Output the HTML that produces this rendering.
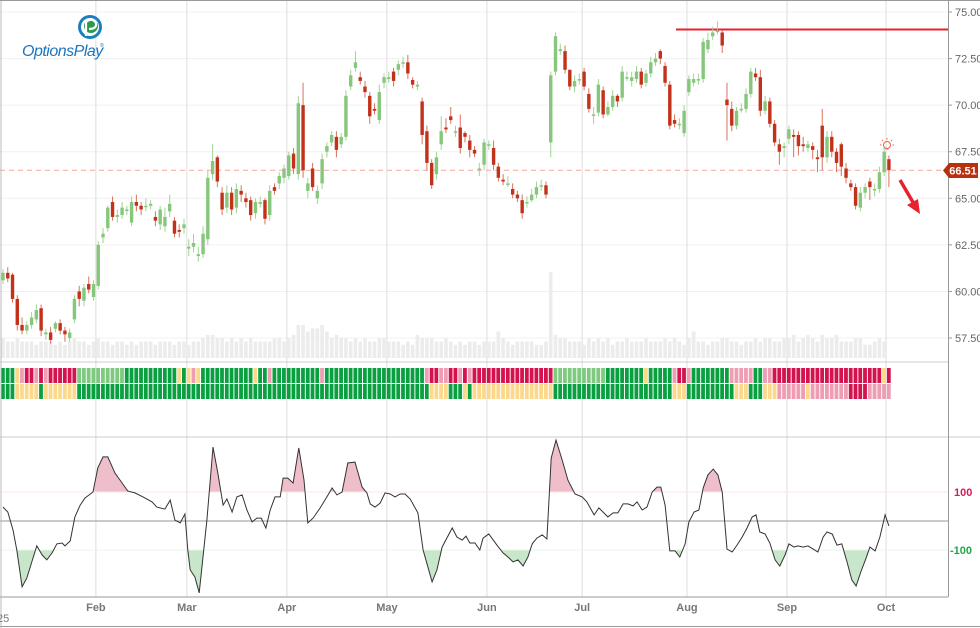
<!DOCTYPE html>
<html><head><meta charset="utf-8"><title>Price chart</title>
<style>
html,body{margin:0;padding:0;background:#fff;}
svg{display:block;font-family:"Liberation Sans",sans-serif;}
</style></head>
<body>
<svg id="chart" width="980" height="628" viewBox="0 0 980 628">
  <rect x="0" y="0" width="980" height="628" fill="#fff"/>
  <g id="grid"></g>
  <g id="volume"></g>
  <line x1="0" y1="170.2" x2="948" y2="170.2" stroke="#f2a79a" stroke-width="1" stroke-dasharray="5,4"/>
  <line x1="676" y1="29.5" x2="948" y2="29.5" stroke="#e8212f" stroke-width="2"/>
  <g id="candles"></g>
  <g id="strips"></g>
  <g id="cci"></g>
  <g id="axes"></g>
  <!-- logo -->
  <g>
    <circle cx="90" cy="27" r="12" fill="#1a7fc1"/>
    <circle cx="90" cy="27" r="9" fill="#fff"/>
    <circle cx="91" cy="26" r="7" fill="#2a9b4a"/>
    <path d="M86 36 L86 22 Q92 17 96 23 Q97 29 89 29" stroke="#fff" stroke-width="2.2" fill="none"/>
    <text x="22" y="56" font-size="16" font-style="italic" fill="#1b74be" letter-spacing="-0.5">OptionsPlay</text>
    <text x="100" y="47" font-size="5" fill="#1b74be">®</text>
  </g>
  <!-- bulb icon -->
  <g stroke="#f0604a" fill="none" stroke-width="1">
    <circle cx="887" cy="145" r="3.5"/>
    <line x1="885.5" y1="149" x2="888.5" y2="149"/>
    <line x1="887" y1="138" x2="887" y2="139.5"/>
    <line x1="880" y1="145" x2="881.5" y2="145"/>
    <line x1="892.5" y1="145" x2="894" y2="145"/>
    <line x1="882" y1="140" x2="883" y2="141"/>
    <line x1="892" y1="140" x2="891" y2="141"/>
  </g>
  <!-- arrow -->
  <g>
    <line x1="900" y1="180" x2="914" y2="204" stroke="#e8212f" stroke-width="3.5"/>
    <polygon points="920,214 907,205 918,199" fill="#e8212f"/>
  </g>
  <!-- price tag -->
  <g>
    <polygon points="943,170.5 949,163 978,163 978,178 949,178" fill="#b8310f"/>
    <text x="963" y="174.5" font-size="11" font-weight="bold" fill="#fff" text-anchor="middle">66.51</text>
  </g>
</svg>
<script>
const opens=[60.6,61.0,60.9,59.6,58.2,57.9,58.2,58.5,59.1,57.7,57.8,58.0,58.3,57.9,57.5,58.5,60.0,59.5,60.4,59.7,60.3,62.9,63.4,64.8,64.0,64.1,64.4,63.7,64.8,64.6,64.6,64.6,64.0,63.6,63.5,64.3,63.8,63.3,63.4,62.3,62.4,61.9,62.0,62.8,66.3,67.2,65.3,64.5,65.3,64.5,65.4,65.0,64.9,64.2,64.7,64.9,64.1,65.6,65.8,66.1,66.2,67.4,66.3,70.0,65.4,66.6,65.0,65.8,67.5,68.0,68.3,67.9,68.3,71.0,72.0,71.5,71.0,70.5,69.8,69.2,71.2,71.4,71.8,71.9,72.3,72.3,71.35,71.0,70.2,68.6,66.9,66.3,67.9,68.8,69.4,68.6,68.8,68.5,68.1,67.6,66.6,66.8,67.9,67.7,66.7,66.0,65.8,65.5,65.2,64.9,64.8,64.9,65.2,65.7,65.7,68.0,71.8,72.9,72.9,71.9,71.0,71.4,71.8,70.6,69.5,69.6,70.8,69.5,69.9,70.5,70.4,71.5,71.3,71.4,71.8,71.2,71.7,72.3,72.9,72.1,71.1,69.2,69.0,68.5,70.7,71.2,71.4,71.4,73.0,73.7,74.0,73.9,70.3,69.8,68.9,69.8,69.8,70.6,71.7,71.5,69.7,70.2,69.0,67.9,67.7,68.2,68.4,68.4,67.9,67.7,67.8,67.2,68.9,67.2,68.3,67.5,67.9,66.6,65.8,65.6,64.5,65.3,65.9,65.5,65.5,66.4,67.1];
const closes=[61.0,60.7,59.6,58.2,57.9,58.2,58.6,59.0,57.9,57.8,57.4,58.3,57.9,57.7,57.8,59.6,59.6,60.2,60.1,60.4,62.5,63.1,64.5,64.0,64.1,64.5,64.4,64.8,64.6,64.4,64.6,64.7,63.8,64.4,64.0,64.7,63.1,63.2,63.6,62.4,62.6,62.0,63.1,66.1,67.0,65.9,64.4,65.3,64.4,65.5,65.2,64.8,64.1,64.8,64.8,63.9,65.4,65.4,66.2,66.6,67.3,66.6,70.1,66.5,65.8,65.6,65.4,67.1,67.8,68.4,67.6,68.3,70.5,71.6,72.3,71.3,70.7,69.4,69.7,70.7,71.5,71.5,71.3,72.2,72.3,71.7,71.1,71.1,68.4,66.9,65.7,67.2,68.6,68.7,69.2,68.6,67.7,68.3,67.6,67.4,66.6,68.0,67.9,66.8,66.1,65.9,65.8,65.2,65.0,64.2,64.8,65.2,65.6,65.7,65.2,71.6,73.7,73.0,71.9,71.0,71.3,71.4,71.0,69.8,69.5,71.1,69.5,69.9,70.5,70.2,71.8,71.5,71.5,71.8,71.1,71.7,72.3,72.5,72.5,71.2,68.9,69.0,69.0,69.7,71.4,71.4,71.4,73.4,73.5,73.9,74.0,73.2,70.0,68.9,69.7,69.8,70.6,71.8,71.5,69.7,70.2,69.0,68.0,67.5,67.8,68.7,68.3,67.8,67.8,67.9,67.6,67.1,67.2,68.3,67.5,66.9,66.7,66.1,65.6,64.6,65.3,65.6,65.6,65.5,66.4,67.5,66.51];
const highs=[61.2,61.3,61.0,59.8,58.6,58.4,58.9,59.3,59.3,58.0,58.1,58.4,58.5,58.1,58.0,59.8,60.3,60.4,60.8,60.6,62.7,63.4,64.6,65.1,64.4,64.8,64.6,65.1,65.2,64.8,65.0,64.9,64.3,64.6,64.5,65.2,64.0,63.6,63.9,62.8,63.1,62.4,63.5,66.5,67.9,67.3,65.6,65.7,65.6,65.8,65.7,65.3,65.1,65.0,65.1,65.0,65.7,65.8,66.4,66.8,67.5,67.7,70.5,71.2,66.1,66.9,65.7,67.4,68.0,68.6,68.6,68.5,70.8,71.9,72.9,71.8,71.3,70.7,70.1,71.1,71.7,71.8,72.0,72.4,72.6,72.7,71.5,71.3,70.4,68.9,67.1,67.5,69.4,69.3,69.9,68.9,69.5,68.6,68.4,67.8,66.9,68.2,68.1,68.1,66.9,66.3,66.2,65.8,65.4,65.2,65.1,65.5,65.9,66.0,65.9,71.8,73.9,73.3,73.2,71.5,71.6,71.7,72.0,70.9,69.9,71.4,71.0,70.2,70.8,70.6,72.1,71.8,71.8,72.1,72.0,71.9,72.6,72.8,73.0,72.3,71.3,69.5,69.3,70.0,71.6,71.7,71.7,73.6,73.9,74.2,74.5,74.0,71.2,70.2,69.9,70.1,70.9,72.0,72.0,71.9,70.5,70.4,69.2,68.2,68.0,68.9,68.7,68.6,68.3,68.1,68.0,67.6,69.8,68.6,68.6,67.7,68.0,66.9,66.0,65.8,65.6,65.8,66.1,65.8,66.7,67.7,67.3];
const lows=[60.4,60.5,59.4,57.9,57.7,57.7,58.0,58.3,57.6,57.4,57.2,57.8,57.7,57.3,57.3,58.3,59.2,59.2,59.9,59.5,60.1,62.6,63.2,63.8,63.7,63.9,64.1,63.5,64.3,64.1,64.3,64.4,63.5,63.3,63.2,64.0,62.9,62.9,63.1,61.9,62.1,61.6,61.8,62.5,66.0,65.6,64.1,64.2,64.1,64.2,64.8,64.5,63.8,63.9,64.5,63.6,63.8,65.2,65.5,65.8,66.0,66.3,66.0,66.1,65.0,65.4,64.7,65.5,67.2,67.8,67.2,67.7,68.1,70.8,71.8,71.1,70.4,69.0,69.5,69.0,70.9,71.2,71.0,71.6,72.0,71.4,70.9,70.8,67.9,66.5,65.5,66.0,67.6,68.5,69.0,68.3,67.4,68.0,67.2,67.2,66.2,66.5,67.6,66.5,65.9,65.7,65.6,65.0,64.8,63.9,64.5,64.8,65.0,65.4,65.0,67.2,71.6,72.7,71.7,70.8,70.7,71.1,70.8,69.6,69.0,69.4,69.3,69.4,69.7,69.9,70.2,71.3,71.0,71.2,70.9,71.0,71.5,72.1,72.2,71.0,68.7,68.8,68.7,68.3,70.5,71.0,71.1,71.2,72.8,73.5,73.8,72.8,68.1,68.6,68.7,69.6,69.6,70.4,71.3,69.4,69.5,68.8,67.8,66.8,67.2,67.9,67.2,67.3,67.5,67.5,67.1,66.4,66.5,66.9,67.2,66.4,66.2,65.8,65.4,64.4,64.3,65.0,64.9,65.1,65.3,66.2,65.6];
const volumes=[6,5,5,6,5,5,5,4,5,5,5,4,5,4,5,6,5,5,4,5,6,5,5,4,5,5,4,5,4,5,5,5,4,5,5,5,4,5,5,4,5,5,6,7,7,6,6,5,6,5,6,5,6,5,5,5,5,6,6,5,6,7,10,10,8,9,9,10,8,6,7,6,6,5,6,5,6,5,5,6,6,5,5,5,4,5,4,7,6,6,6,5,5,6,5,4,5,4,5,5,4,5,5,5,8,6,5,4,5,5,5,5,4,4,5,26,7,6,6,5,5,5,4,6,5,6,5,6,4,5,5,6,5,5,5,6,5,5,5,6,5,6,5,4,6,8,5,5,4,5,5,6,6,5,5,4,5,5,6,5,6,6,5,5,6,6,7,5,6,7,6,5,7,6,6,7,5,5,5,6,6,4,4,5,6,5];
const stripRow1=[['G',3],['Y',1],['P',1],['R',2],['P',1],['R',1],['P',1],['R',6],['L',10],['G',11],['Y',1],['G',1],['Y',1],['P',1],['Y',1],['G',11],['Y',1],['G',2],['P',1],['G',10],['P',1],['G',21],['P',1],['R',2],['P',2],['R',2],['P',1],['R',1],['P',1],['R',17],['L',11],['G',8],['Y',1],['G',5],['P',1],['R',2],['P',1],['G',8],['P',5],['G',2],['P',2],['R',23],['Y',1],['R',1]];
const stripRow2=[['G',3],['Y',5],['G',1],['Y',7],['G',74],['Y',4],['G',3],['Y',1],['G',1],['Y',17],['G',25],['Y',3],['G',10],['Y',3],['G',3],['Y',3],['P',6],['Y',1],['P',8],['R',4],['P',5]];
const cciDay=[0,1,2.1,2.9,4,5,7.1,8.2,9.2,10.3,11.3,12.4,13,14.1,15.1,16.2,17.2,18.9,19.9,21,22,23.5,25,26.2,27.7,29.4,31.3,32.3,34,35.1,36.1,37.2,38.2,38.8,39.3,40.3,41.2,42.8,44.1,45.1,46.2,47,48.1,49.1,50.2,51.2,52.3,53.3,54.2,55.2,56.1,57.1,58.2,58.8,59.8,60.9,62.1,63.2,64,65.1,66.6,68,69.1,70.1,71.2,72.4,73.9,75.4,76.4,77.1,78.1,79.2,80.2,81.3,82.3,83.4,84.4,85.5,87.1,88.2,90.1,91.1,92.2,94.3,95.3,96.4,97.2,98,99.1,100.1,100.8,102,103.7,105,106,107.1,108.1,109.2,110.2,111.1,112.1,113.2,114.2,115.1,116.1,117.4,118.6,120.1,121.6,122.6,124.1,125.1,127,128.1,129.1,130.2,131.2,132.3,133.1,134.2,135.2,136.3,137.3,138.1,139,140,141.1,142.1,143.2,144,145.1,146.1,147,148,149.1,150.1,151,152,153.1,154.1,155.2,156.2,157.3,158.1,158.9,160,161,162.1,163.1,164.2,165,166.1,166.9,168,169,170.1,171.1,172.2,173,174.1,175.1,176.1,177.2,178.2,179.1,180.1,181.2,182,183.1,184.1,185.2,186];
const cciValue=[48,31,-31,-100,-227,-197,-86,-117,-134,-110,-79,-76,-86,-69,14,55,79,100,183,221,221,166,131,103,97,83,66,48,41,72,3,-7,24,-100,-169,-193,-248,3,255,166,55,76,31,83,90,38,-3,10,10,-24,38,83,83,148,148,131,252,141,-7,10,45,83,114,90,100,200,203,117,97,59,48,62,97,93,83,93,93,76,28,-100,-210,-169,-90,-24,-55,-66,-52,-76,-76,-100,-59,-45,-83,-110,-124,-141,-134,-155,-124,-79,-59,-48,-62,217,279,210,141,93,83,66,21,45,14,28,28,59,59,52,66,38,48,100,117,117,55,-103,-103,-124,-79,-3,31,38,114,159,179,159,100,-97,-107,-83,-55,-24,14,21,-38,-45,-76,-134,-155,-117,-79,-90,-86,-90,-86,-97,-107,-55,-38,-45,-83,-79,-141,-203,-224,-176,-128,-90,-103,-55,21,-17];
const priceTicks=[75,72.5,70,67.5,65,62.5,60,57.5];
const cciTicks=[100,-100];
const monthLabels=['Feb','Mar','Apr','May','Jun','Jul','Aug','Sep','Oct'];
const monthDay=[19.5,38.6,59.6,80.6,101.6,121.6,143.6,164.6,185.4];

const NS='http://www.w3.org/2000/svg';
function mk(tag,attrs,parent){const e=document.createElementNS(NS,tag);for(const k in attrs)e.setAttribute(k,attrs[k]);parent.appendChild(e);return e;}
const xDay=d=>3+d*4.763;
const yPrice=p=>12+(75-p)*18.63;
const yCci=v=>521-v*0.29;
const yVol=v=>358-v*3.3;

const grid=document.getElementById('grid');
priceTicks.forEach(t=>{
  const l=mk('line',{x1:0,x2:948,y1:yPrice(t),y2:yPrice(t),stroke:'#f0f0f0','stroke-width':1},grid);
  
  
});
monthDay.forEach(d=>{
  const l=mk('line',{x1:xDay(d),x2:xDay(d),y1:0,y2:597,stroke:'#dedede','stroke-width':1},grid);
  
  
});

const vol=document.getElementById('volume');
volumes.forEach((v,i)=>{
  const r=mk('rect',{x:xDay(i)-1.8,y:yVol(v),width:3.6,height:358-yVol(v),fill:'#ececec'},vol);
  
  
});

const cg=document.getElementById('candles');
opens.forEach((o,i)=>{
  const c=closes[i];const up=c>=o;
  const col=up?'#86c77c':'#c2321a';const wcol=up?'#9fd395':'#d9735f';
  const x=xDay(i);
  const g=mk('g',{},cg);
  
  
  mk('line',{x1:x,x2:x,y1:yPrice(highs[i]),y2:yPrice(lows[i]),stroke:wcol,'stroke-width':1},g);
  const top=yPrice(Math.max(o,c));const h=Math.max(1.5,Math.abs(yPrice(o)-yPrice(c)));
  mk('rect',{x:x-1.7,y:top,width:3.4,height:h,fill:col},g);
});

const sg=document.getElementById('strips');
const stripColors={G:'#0aa042',L:'#7fca80',Y:'#fcd88c',R:'#d3124e',P:'#ee9db3'};
[[stripRow1,368],[stripRow2,384]].forEach(([runs,y])=>{
  let i=0;
  runs.forEach(([c,n])=>{
    for(let k=0;k<n;k++){
      const r=mk('rect',{x:xDay(i)-2,y:y,width:3.8,height:15,fill:stripColors[c]},sg);
      
      
      i++;
    }
  });
});

const cci=document.getElementById('cci');
const defs=mk('defs',{},cci);
const cpTop=mk('clipPath',{id:'cpTop'},defs);mk('rect',{x:0,y:0,width:948,height:yCci(100)},cpTop);
const cpBot=mk('clipPath',{id:'cpBot'},defs);mk('rect',{x:0,y:yCci(-100),width:948,height:200},cpBot);
const pts=cciDay.map((d,i)=>[xDay(d),yCci(cciValue[i])]);
const ptsStr=pts.map(p=>p[0].toFixed(1)+','+p[1].toFixed(1)).join(' ');
const x0=pts[0][0],x1=pts[pts.length-1][0];
const ob=mk('polygon',{points:x0+','+yCci(100)+' '+ptsStr+' '+x1+','+yCci(100),fill:'#eebfcb','clip-path':'url(#cpTop)'},cci);


const os=mk('polygon',{points:x0+','+yCci(-100)+' '+ptsStr+' '+x1+','+yCci(-100),fill:'#c8e6c9','clip-path':'url(#cpBot)'},cci);


const z=mk('line',{x1:0,x2:948,y1:yCci(0),y2:yCci(0),stroke:'#aaa','stroke-width':1.2},cci);


cciTicks.forEach(t=>{
  const l=mk('line',{x1:0,x2:948,y1:yCci(t),y2:yCci(t),stroke:t>0?'#fbe6ea':'#e8f4ea','stroke-width':1},cci);
  
  
});
const ln=mk('polyline',{points:ptsStr,fill:'none',stroke:'#333','stroke-width':1},cci);



const ax=document.getElementById('axes');
const frame=[[0,362,948,362,'#ccc'],[0,437,980,437,'#ccc'],[0,597,948,597,'#999'],[948.5,0,948.5,597,'#999'],[0,626.5,980,626.5,'#999'],[1,0,1,628,'#bbb'],[0,0.5,980,0.5,'#999']];
frame.forEach(f=>{
  const l=mk('line',{x1:f[0],y1:f[1],x2:f[2],y2:f[3],stroke:f[4],'stroke-width':1},ax);
  
  
});
priceTicks.forEach(t=>{
  const l=mk('line',{x1:948,x2:952,y1:yPrice(t),y2:yPrice(t),stroke:'#999'},ax);
  
  
  const tx=mk('text',{x:955,y:yPrice(t)+4,'font-size':11,fill:'#666'},ax);
  tx.textContent=t.toFixed(2);
  
  
});
cciTicks.forEach(t=>{
  const tx=mk('text',{x:t>0?954:950,y:yCci(t)+4,'font-size':11,'font-weight':'bold',fill:t>0?'#d81b5a':'#1fa84a'},ax);
  tx.textContent=String(t);
  
  
});
monthLabels.forEach((m,i)=>{
  const tx=mk('text',{x:xDay(monthDay[i]),y:611,'font-size':11,'font-weight':'bold',fill:'#777','text-anchor':'middle'},ax);
  tx.textContent=m;
  
  
});
const yr=mk('text',{x:-3,y:622,'font-size':11,fill:'#777'},ax);
yr.textContent='25';


</script>
</body></html>
